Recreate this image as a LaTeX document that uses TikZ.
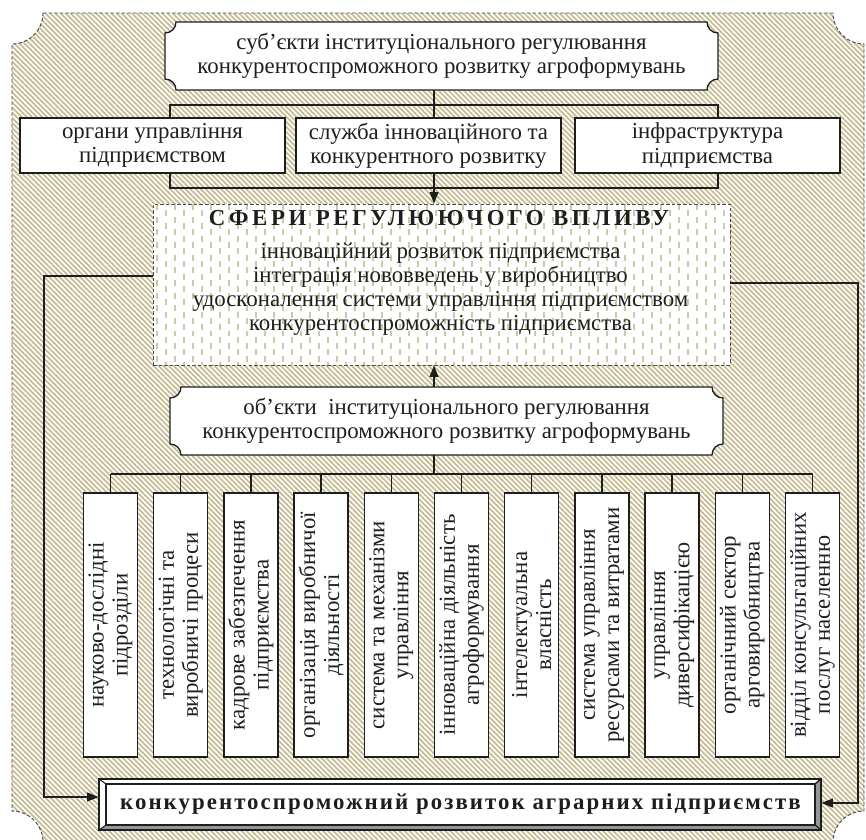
\documentclass[tikz,border=0pt]{standalone}
\usepackage{fontspec}
\setmainfont{Liberation Serif}
\usetikzlibrary{patterns.meta,arrows.meta}
\definecolor{khaki}{RGB}{198,188,148}
\definecolor{khakil}{RGB}{208,199,164}
\definecolor{bevel}{RGB}{150,150,150}
\definecolor{ink}{RGB}{30,30,30}
\newcommand\pxu{*0.02cm}
\newcommand\myplaque[4]{%
  \draw[boxline, fill=white] (#1+11,#2) -- (#3-11,#2)
   .. controls (#3-11,#2+6.1) and (#3-6.1,#2+11) .. (#3,#2+11) -- (#3,#4-11)
   .. controls (#3-6.1,#4-11) and (#3-11,#4-6.1) .. (#3-11,#4) -- (#1+11,#4)
   .. controls (#1+11,#4-6.1) and (#1+6.1,#4-11) .. (#1,#4-11) -- (#1,#2+11)
   .. controls (#1+6.1,#2+11) and (#1+11,#2+6.1) .. (#1+11,#2) -- cycle;}
\begin{document}
\begin{tikzpicture}[x=0.02cm,y=-0.02cm,
  font=\fontsize{13}{13.7}\selectfont,
  boxline/.style={draw=ink, line width=0.75pt},
  box/.style={boxline, fill=white, align=center, inner sep=0pt, text=ink},
  txt/.style={align=center, inner sep=0pt, text=ink},
  conn/.style={draw=ink, line width=0.75pt},
  arr/.style={conn, -{Triangle[length=6.5pt,width=5pt]}},
  vbox/.style={box, rotate=90, minimum width=264\pxu, minimum height=54\pxu}]
\useasboundingbox (0,0) rectangle (866,839);
% outer frame
\path[preaction={fill=white}, pattern={Lines[angle=-45,distance=2.05pt,line width=1.0pt]}, pattern color=khaki]
  (43,13) -- (833,13) .. controls (833,30.1) and (846.9,44) .. (864,44) -- (864,811)
  .. controls (846.9,811) and (833,824.9) .. (833,842) -- (43,842)
  .. controls (43,824.9) and (29.1,811) .. (12,811) -- (12,44)
  .. controls (29.1,44) and (43,30.1) .. (43,13) -- cycle;
\draw[draw=ink!80, line width=0.55pt, dash pattern=on 2pt off 1.2pt]
  (43,13) -- (833,13) .. controls (833,30.1) and (846.9,44) .. (864,44) -- (864,811)
  .. controls (846.9,811) and (833,824.9) .. (833,842) -- (43,842)
  .. controls (43,824.9) and (29.1,811) .. (12,811) -- (12,44)
  .. controls (29.1,44) and (43,30.1) .. (43,13) -- cycle;
% spheres box
\fill[white] (153,204) rectangle (730,365);
\begin{scope}
\clip (153,204) rectangle (730,365);
\foreach \i in {0,...,64}{
  \pgfmathsetmacro\ph{mod(\i,2)*3.6}
  \draw[khakil, line width=1.0pt, dash pattern=on 3.4pt off 3.8pt, dash phase=\ph pt] (157+\i*9,204) -- (157+\i*9,365);
}
\end{scope}
\node[draw=ink!80, line width=0.55pt, dash pattern=on 2pt off 1.2pt, minimum width=577\pxu, minimum height=161\pxu, inner sep=0pt] (sf) at (441.5,284.5) {};
\node[txt, font=\fontsize{13}{14}\selectfont\bfseries\addfontfeature{LetterSpace=16}] (sft) at (439,218) {СФЕРИ РЕГУЛЮЮЧОГО ВПЛИВУ};
\node[txt] (sfb) at (440.5,289) {інноваційний розвиток підприємства\\інтеграція нововведень у виробництво\\удосконалення системи управління підприємством\\конкурентоспроможність підприємства};
% column of arrows
\coordinate (ax) at (434,0);
\coordinate (bus) at (434,474);
% named nodes (geometry only) for plaques
\node[minimum width=553\pxu, minimum height=68\pxu, inner sep=0pt] (top) at (441.5,56) {};
\node[minimum width=553\pxu, minimum height=68\pxu, inner sep=0pt] (obj) at (446.5,421) {};
% connectors top
\draw[arr] (ax |- top.south) -- (ax |- sf.north);
\draw[conn] (170,105) rectangle (718,188);
\draw[arr] (ax |- obj.north) -- (ax |- sf.south);
% side arrows
\node[minimum width=722\pxu, minimum height=51\pxu, inner sep=0pt] (resout) at (460,804.5) {};
\coordinate (lt) at (44,276); \coordinate (lb) at (44,797);
\coordinate (rt) at (858,283); \coordinate (rb) at (858,803);
\draw[arr] (sf.west |- lt) -- (lt) -- (lb) -- (resout.west |- lb);
\draw[arr] (sf.east |- rt) -- (rt) -- (rb) -- (resout.east |- rb);
% plaques
\myplaque{165}{22}{718}{90}
\node[txt] at (top) {суб’єкти інституціонального регулювання\\конкурентоспроможного розвитку агроформувань};
\myplaque{170}{387}{723}{455}
\node[txt] at (obj) {об’єкти~ інституціонального регулювання\\конкурентоспроможного розвитку агроформувань};
% middle boxes
\node[box, minimum width=265\pxu, minimum height=55\pxu] (org) at (152.5,145.5) {органи управління\\підприємством};
\node[box, minimum width=265\pxu, minimum height=55\pxu] (srv) at (428.5,145.5) {служба інноваційного та\\конкурентного розвитку};
\node[box, minimum width=265\pxu, minimum height=55\pxu] (inf) at (707.5,145.5) {інфраструктура\\підприємства};
% vertical boxes
\foreach \i/\t in {1/{науково-дослідні\\підрозділи},
  2/{технологічні та\\виробничі процеси},
  3/{кадрове забезпечення\\підприємства},
  4/{організація виробничої\\діяльності},
  5/{система та механізми\\управління},
  6/{інноваційна діяльність\\агроформування},
  7/{інтелектуальна\\власність},
  8/{система управління\\ресурсами та витратами},
  9/{управління\\диверсифікацією},
  10/{органічний сектор\\арговиробництва},
  11/{відділ консультаційних\\послуг населенню}}{
  \node[vbox] (v\i) at ({110.5+70.2*(\i-1)},625) {\t};
}
\draw[conn] (ax |- obj.south) -- (bus);
\draw[conn] (v1 |- bus) -- (v11 |- bus);
\foreach \i in {1,...,11}{\draw[conn] (v\i |- bus) -- (v\i);}
% bottom bevel box
\fill[white] (99,779) rectangle (821,830);
\filldraw[fill=bevel, draw=ink, line width=0.6pt] (821,779) -- (821,830) -- (815,825) -- (815,784) -- cycle;
\filldraw[fill=bevel, draw=ink, line width=0.6pt] (99,830) -- (821,830) -- (815,825) -- (106,825) -- cycle;
\draw[ink, line width=0.6pt] (99,779) -- (106,784) (821,779) -- (815,784);
\draw[boxline] (99,779) rectangle (821,830);
\node[box, minimum width=709\pxu, minimum height=41\pxu, font=\fontsize{13}{14}\selectfont\bfseries\addfontfeature{LetterSpace=9}] (res) at (460.5,804.5) {конкурентоспроможний розвиток аграрних підприємств};
\end{tikzpicture}
\end{document}
